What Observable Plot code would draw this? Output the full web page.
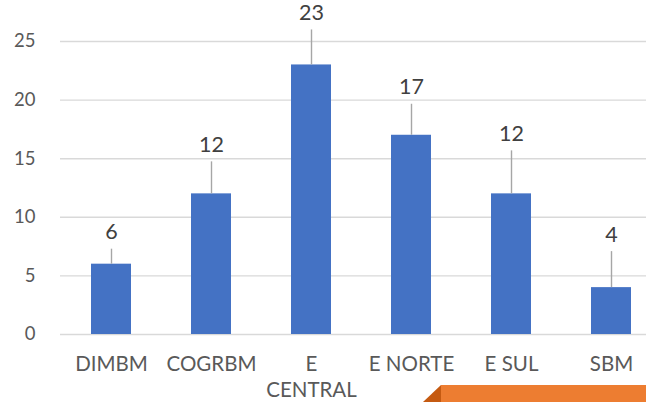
<!DOCTYPE html>
<html>
<head>
<meta charset="utf-8">
<script src="https://cdn.jsdelivr.net/npm/d3@7"></script>
<script src="https://cdn.jsdelivr.net/npm/@observablehq/plot@0.6"></script>
<style>
  html, body { margin: 0; padding: 0; background: #fff; }
  #wrap { position: relative; width: 646px; height: 402px; overflow: hidden; }
  #chart svg { display: block; }
  .tab-edge { position: absolute; left: 423px; top: 385px; width: 223px; height: 17px;
              background: #c55a11; clip-path: polygon(18px 0, 100% 0, 100% 100%, 0 100%); }
  .tab-face { position: absolute; left: 441px; top: 385px; width: 205px; height: 17px; background: #ed7d31; }
</style>
</head>
<body>
<div id="wrap">
  <div id="chart"></div>
  <div class="tab-edge"></div>
  <div class="tab-face"></div>
</div>
<script>
// Units per sector
const categories = ["DIMBM", "COGRBM", "E CENTRAL", "E NORTE", "E SUL", "SBM"];
const counts = [6, 12, 23, 17, 12, 4];
const yTicks = [0, 5, 10, 15, 20, 25];

// Leader-line lengths (px) for the moved data labels
const leaderPx = [15, 32, 35, 31, 43, 36];
const labelGap = 17;

const W = 646, H = 402;
const yBottom = 334, yTop = 41;
const pxPerUnit = (yBottom - yTop) / 25;

const rows = categories.map((c, i) => ({category: c, count: counts[i], i}));

const font = "Lato, 'Open Sans', sans-serif";

const valueLabels = rows.map(d =>
  Plot.text([d], {
    x: "category", y: "count",
    text: r => String(r.count),
    dy: -(leaderPx[d.i] + labelGap),
    fontSize: 21.5, fill: "#404040", fontFamily: font
  })
);

const chart = Plot.plot({
  width: W,
  height: H,
  marginLeft: 60,
  marginRight: 0,
  marginTop: 0,
  marginBottom: H - yBottom,
  style: {fontFamily: font, background: "transparent", overflow: "visible"},
  x: {type: "band", domain: categories, range: [60, 661], paddingInner: 0.6, paddingOuter: 0.3, label: null},
  y: {domain: [0, 25], range: [yBottom, yTop], label: null},
  marks: [
    Plot.ruleY(yTicks, {stroke: "#d9d9d9", strokeWidth: 1.4}),
    Plot.axisY({ticks: yTicks, tickSize: 0, tickPadding: 25, fontSize: 18.5, color: "#595959", label: null}),
    Plot.axisX({tickSize: 0, tickPadding: 18, fontSize: 20.5, color: "#595959", lineWidth: 5, lineHeight: 1.28, label: null}),
    Plot.barY(rows, {x: "category", y: "count", fill: "#4472c4"}),
    Plot.ruleX(rows, {
      x: "category",
      y1: "count",
      y2: d => d.count + leaderPx[d.i] / pxPerUnit,
      stroke: "#a6a6a6", strokeWidth: 1.4
    }),
    ...valueLabels
  ]
});

document.getElementById("chart").appendChild(chart);
</script>
</body>
</html>
